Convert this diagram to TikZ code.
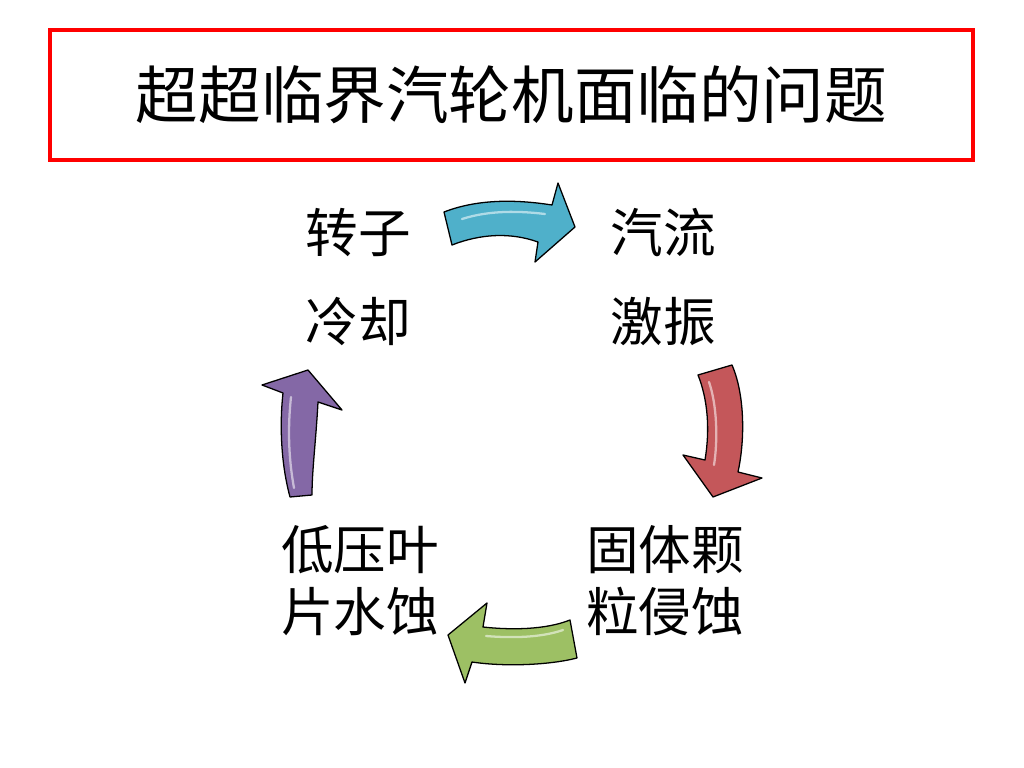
\documentclass[tikz,border=0pt]{standalone}
\usepackage{fontspec}
\usepackage{xcolor}
\usepackage{tikz}
\usetikzlibrary{positioning,calc}
\newfontfamily\cjk{Noto Sans CJK SC}
\definecolor{ttRed}{HTML}{FF0000}
\definecolor{acBlue}{HTML}{4FB0CA}
\definecolor{acRed}{HTML}{C4575A}
\definecolor{acGreen}{HTML}{9DC064}
\definecolor{acPurple}{HTML}{8468A6}
\tikzset{
  titlebox/.style={draw=ttRed, line width=2.8pt, minimum width=649pt, minimum height=91pt, font=\cjk\fontsize{44}{50}\selectfont},
  lbltop/.style={align=center, inner sep=0pt, font=\cjk\fontsize{37}{63}\selectfont},
  lblbot/.style={align=center, inner sep=0pt, font=\cjk\fontsize{37}{43.6}\selectfont},
  barrow/.style={fill=#1, draw=black, line width=0.9pt, line join=round},
  gloss/.style={white, opacity=0.55, line width=1.6pt, line cap=round},
}
\begin{document}
\begin{tikzpicture}[x=0.703pt,y=-0.703pt]
  \useasboundingbox (0,0) rectangle (1024,768);
  % title
  \node[titlebox] (title) at (511.5,95) {超超临界汽轮机面临的问题};
  % four issues
  \node[lbltop] (rotor) at (358,277) {转子\\冷却};
  \node[lbltop] (flow) at (663,277) {汽流\\激振};
  \node[lblbot] (erosion) at (665,581) {固体颗\\粒侵蚀};
  \node[lblbot] (water) at (360,581) {低压叶\\片水蚀};
  % blue arrow (right)
  \draw[barrow=acBlue] (444,212) .. controls (480,198) and (520,200) .. (552,205) -- (558,183) -- (575,227)
    -- (535,262) -- (538,242) .. controls (510,232) and (480,234) .. (452,245) -- cycle;
  \draw[gloss] (462,219) .. controls (490,210) and (520,211) .. (545,214);
  % red arrow (down)
  \draw[barrow=acRed] (698,375) -- (732,365) .. controls (745,395) and (745,440) .. (738,472) -- (762,478)
    -- (713,497) -- (683,455) -- (705,460) .. controls (710,430) and (708,400) .. (698,375) -- cycle;
  \draw[gloss] (709,382) .. controls (717,405) and (718,440) .. (714,465);
  % green arrow (left)
  \draw[barrow=acGreen] (570,620) .. controls (545,630) and (510,630) .. (483,627) -- (487,603) -- (448,635)
    -- (465,683) -- (472,662) .. controls (505,667) and (550,665) .. (577,658) -- cycle;
  \draw[gloss] (563,630) .. controls (540,638) and (510,638) .. (486,636);
  % purple arrow (up)
  \draw[barrow=acPurple] (290,497) .. controls (280,460) and (280,420) .. (283,393) -- (262,385) -- (308,370)
    -- (342,410) -- (318,402) .. controls (316,440) and (312,470) .. (312,495) -- cycle;
  \draw[gloss] (294,488) .. controls (288,455) and (288,425) .. (291,397);
\end{tikzpicture}
\end{document}
